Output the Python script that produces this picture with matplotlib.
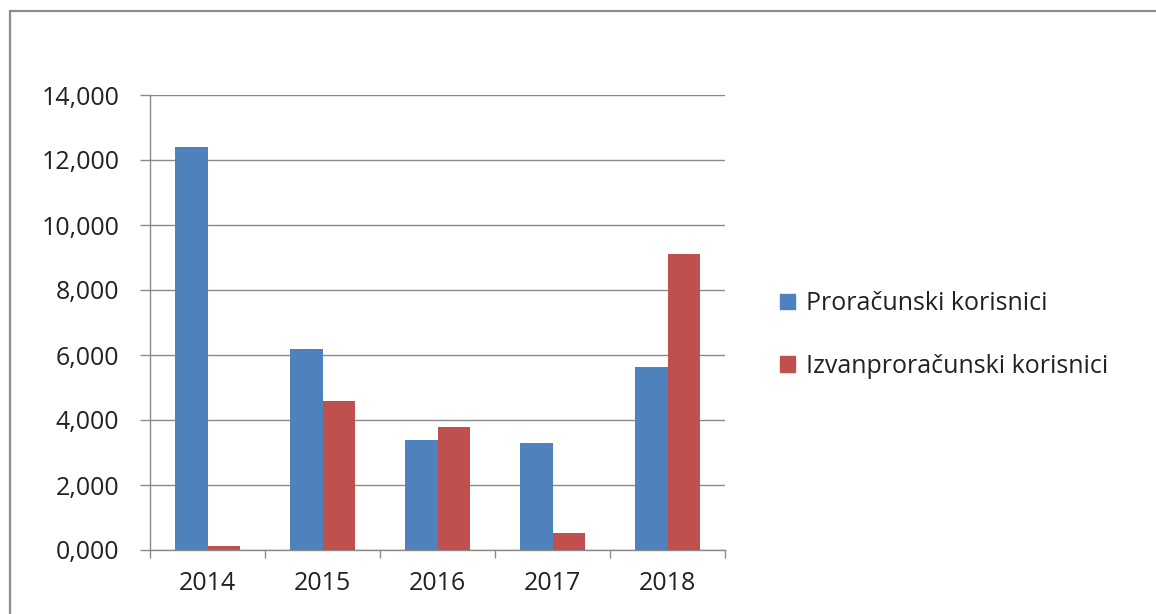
"""Bar chart: proračunski vs izvanproračunski korisnici, 2014-2018."""
import matplotlib
matplotlib.use('Agg')
import matplotlib.pyplot as plt
import matplotlib.patches as mpatches
import numpy as np

plt.rcParams['font.family'] = ['Open Sans', 'DejaVu Sans']

years = ['2014', '2015', '2016', '2017', '2018']
proracunski = [12400, 6200, 3380, 3300, 5630]
izvanproracunski = [130, 4600, 3770, 530, 9100]
series_names = ['Proračunski korisnici', 'Izvanproračunski korisnici']
y_ticks = [0, 2000, 4000, 6000, 8000, 10000, 12000, 14000]
y_tick_labels = ['0,000', '2,000', '4,000', '6,000', '8,000', '10,000', '12,000', '14,000']

BLUE = '#4F81BD'
RED = '#C0504D'
GRID = '#8a8a8a'
TXT = '#222222'
FS = 18

W, H = 1156, 614
fig = plt.figure(figsize=(W / 100, H / 100), dpi=100)
fig.patch.set_facecolor('white')

# outer chart border (only top and left visible in the reference)
border = mpatches.Rectangle((10 / W, -0.05), 1.2, 1 - 11 / H + 0.05,
                            transform=fig.transFigure, fill=False,
                            edgecolor='#8c8c8c', lw=1.6, clip_on=False)
fig.add_artist(border)

ax = fig.add_axes([150 / W, 1 - 550 / H, 575 / W, 455 / H])

x = np.arange(len(years))
bw = 1 / 3.5
ax.bar(x - bw / 2, proracunski, bw, color=BLUE, label=series_names[0], zorder=3)
ax.bar(x + bw / 2, izvanproracunski, bw, color=RED, label=series_names[1], zorder=3)

ax.set_xlim(-0.5, len(years) - 0.5)
ax.set_ylim(0, 14000)

ax.set_yticks(y_ticks)
ax.set_yticklabels(y_tick_labels, fontsize=FS, color=TXT)
ax.yaxis.grid(True, color=GRID, lw=1.0, zorder=0)
ax.tick_params(axis='y', length=7, width=1, color=GRID, pad=15)

# category labels centred, ticks at category boundaries
ax.set_xticks(x)
ax.set_xticklabels(years, fontsize=FS, color=TXT)
ax.tick_params(axis='x', which='major', length=0, pad=15)
ax.set_xticks(np.arange(len(years) + 1) - 0.5, minor=True)
ax.tick_params(axis='x', which='minor', length=6, width=1, color=GRID)

for side in ['top', 'right']:
    ax.spines[side].set_visible(False)
for side in ['left', 'bottom']:
    ax.spines[side].set_color(GRID)
    ax.spines[side].set_linewidth(1.0)

handles = [mpatches.Patch(color=BLUE), mpatches.Patch(color=RED)]
fig.legend(handles, series_names, loc='center left',
           bbox_to_anchor=(757 / W, 1 - 335 / H), frameon=False,
           fontsize=FS, handlelength=0.6, handleheight=0.6,
           handletextpad=0.45, labelspacing=1.5, labelcolor=TXT)

plt.savefig('out.png', dpi=100, facecolor='white')
plt.close()
